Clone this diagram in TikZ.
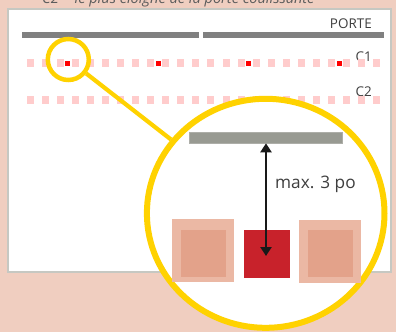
\documentclass[tikz,border=0pt]{standalone}
\usepackage{fontspec}
\setmainfont{Open Sans}
\usepackage{tikz}
\usetikzlibrary{arrows.meta,shapes.geometric}

\definecolor{bgpink}{HTML}{F0CEC0}
\definecolor{panelgray}{HTML}{C6C8C2}
\definecolor{doorgray}{HTML}{808080}
\definecolor{dotpink}{HTML}{FFCCCC}
\definecolor{dotred}{HTML}{FF0000}
\definecolor{lensyellow}{HTML}{FFD200}
\definecolor{plategray}{HTML}{989A92}
\definecolor{postout}{HTML}{EBB8A4}
\definecolor{postin}{HTML}{E3A28A}
\definecolor{postred}{HTML}{C8222B}
\definecolor{inkgray}{HTML}{3F3F3F}

\begin{document}
\begin{tikzpicture}[x=1bp,y=-1bp,
    tag/.style={text=inkgray,inner sep=0pt,font=\fontsize{13.5}{16}\selectfont},
    lens/.style={draw=lensyellow,fill=white,inner sep=0pt},
    dim/.style={draw=black!90,line width=2.4bp,{Triangle[width=11bp,length=9bp]}-{Triangle[width=11bp,length=9bp]}}]
          %\draw[very thin,lightgray] (0,0) grid[step=20] (396,332);
          \useasboundingbox[fill=bgpink] (0,0) rectangle (396,332);
          \node[anchor=base west,inner sep=0pt,text=inkgray!85,font=\fontsize{14.6}{17}\selectfont\itshape] (note) at (42,3.5) {C2 = le plus éloigné de la porte coulissante};
          \draw[fill=white,draw=panelgray,line width=2bp] (8,9) rectangle (391,272);
          \fill[doorgray] (22,32) rectangle (199,38);
          \fill[doorgray] (203,32) rectangle (384,38);
          \node[tag,anchor=base east] (porte) at (372,28.3) {PORTE};
          \node[tag,anchor=base east] (cone) at (372,61.7) {C1};
          \node[tag,anchor=base east] (ctwo) at (372,96.7) {C2};
          % rows of ceiling marks
          \foreach \i in {0,...,23} {
            \fill[dotpink] ({26.5+15.08*\i},59) rectangle +(7,8);
            \fill[dotpink] ({26.5+15.08*\i},96) rectangle +(7,8);
          }
          \foreach \xx in {67.5,158,248,339} \fill[dotred] ({\xx-2.5},60.5) rectangle +(5,5.5);
          % magnifier
          \node[lens,circle,fill=none,minimum size=41bp,line width=4.5bp] (spot) at (68.3,59.5) {};
          \node[lens,ellipse,minimum width=237.6bp,minimum height=229bp,line width=6bp] (zoom) at (265.7,213.3) {};
          \draw[lensyellow,line width=4.2bp] (spot) -- (zoom);
          \node[fill=plategray,draw=plategray!80!white,line width=0.6bp,inner sep=0pt,minimum width=153bp,minimum height=11bp] (plate) at (266,137.5) {};
          \fill[postout] (172,219.3) rectangle (234.3,282.3);
          \fill[postin] (181,230) rectangle (226,276.7);
          \fill[postout] (298.7,220) rectangle (361,283);
          \fill[postin] (308,230) rectangle (353,276.7);
          \fill[postred] (244,230) rectangle (289.7,277.7);
          \coordinate (tip) at (266,256);
          \draw[dim] (plate.south) -- (tip);
          \node[tag,anchor=base west,font=\fontsize{17.3}{20}\selectfont] (gap) at (275,188.3) {max. 3 po};
        \end{tikzpicture}
\end{document}
